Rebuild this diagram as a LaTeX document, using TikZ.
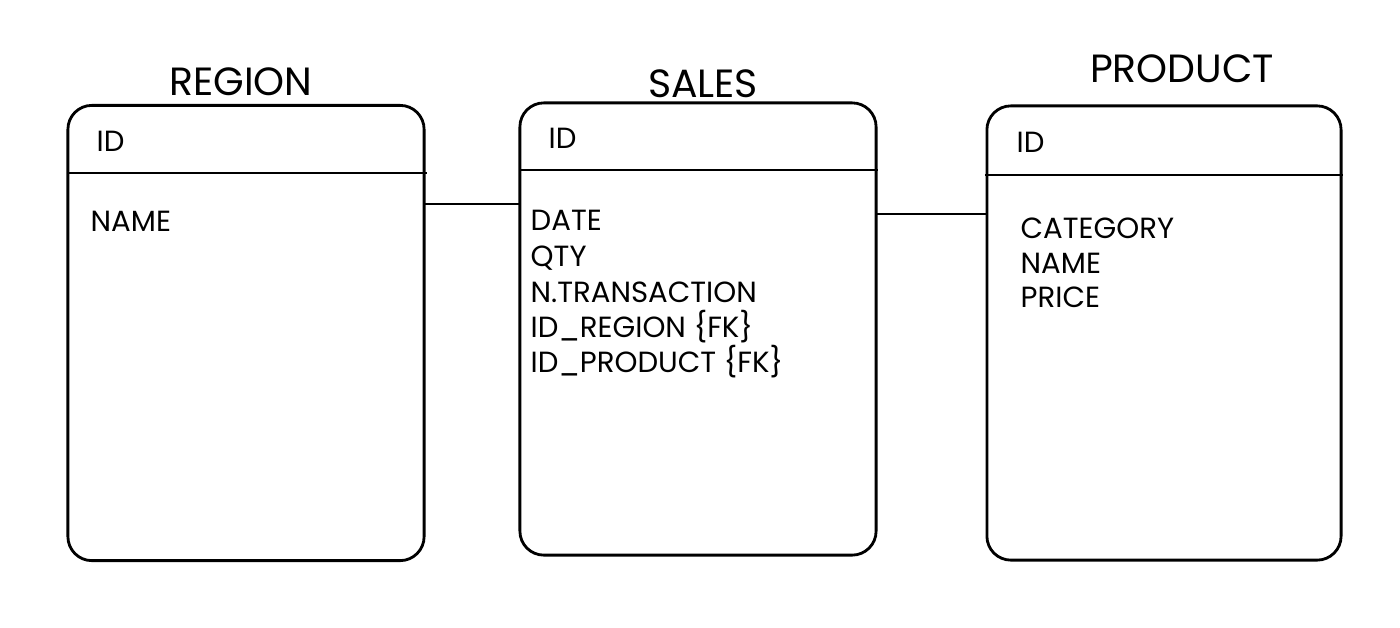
\documentclass[tikz,border=0pt]{standalone}
\usepackage{fontspec}
\setmainfont{Poppins}
\begin{document}
\begin{tikzpicture}[x=0.01cm,y=-0.01cm,
  tablebox/.style={draw=black, line width=0.8pt, rounded corners=0.24cm, inner sep=0pt, outer sep=0pt},
  rule/.style={draw=black, line width=0.8pt},
  link/.style={draw=black, line width=0.8pt},
  title/.style={anchor=base, inner sep=0pt, font=\fontsize{11.2}{13}\selectfont},
  field/.style={anchor=base west, inner sep=0pt, font=\fontsize{8.3}{10}\selectfont}]
\useasboundingbox (0,0) rectangle (1400,627);
% tables
\node[tablebox, minimum width=3.56cm, minimum height=4.55cm] (region) at (246,333) {};
\node[tablebox, minimum width=3.56cm, minimum height=4.52cm] (sales) at (698,329) {};
\node[tablebox, minimum width=3.54cm, minimum height=4.54cm] (product) at (1164,333) {};
% header rules
\draw[rule] ([xshift=-0.01cm]region.west |- 0,173) -- ([xshift=0.03cm]region.east |- 0,173);
\draw[rule] (sales.west |- 0,170) -- ([xshift=0.02cm]sales.east |- 0,170);
\draw[rule] ([xshift=-0.02cm]product.west |- 0,175) -- ([xshift=0.02cm]product.east |- 0,175);
% titles
\node[title] (tregion) at (241,95) {REGION};
\node[title] (tsales) at (703,97) {SALES};
\node[title] (tproduct) at (1182,82) {PRODUCT};
% region fields
\node[field] (rid) at (96,151) {ID};
\node[field] (rname) at (90,231) {NAME};
% sales fields
\node[field] (sid) at (548,148) {ID};
\node[field] (sdate) at (530,230) {DATE};
\node[field] (sqty) at (530,266) {QTY};
\node[field] (strans) at (530,302) {N.TRANSACTION};
\node[field] (sreg) at (530,337) {ID\_REGION \{FK\}};
\node[field] (sprod) at (530,372) {ID\_PRODUCT \{FK\}};
% product fields
\node[field] (pid) at (1016,152) {ID};
\node[field] (pcat) at (1020,238) {CATEGORY};
\node[field] (pname) at (1020,273) {NAME};
\node[field] (pprice) at (1020,307) {PRICE};
% connectors
\coordinate (c1) at (0,204);
\coordinate (c2) at (0,214);
\draw[link] (region.east |- c1) -- (sales.west |- c1);
\draw[link] (sales.east |- c2) -- (product.west |- c2);
\end{tikzpicture}
\end{document}
